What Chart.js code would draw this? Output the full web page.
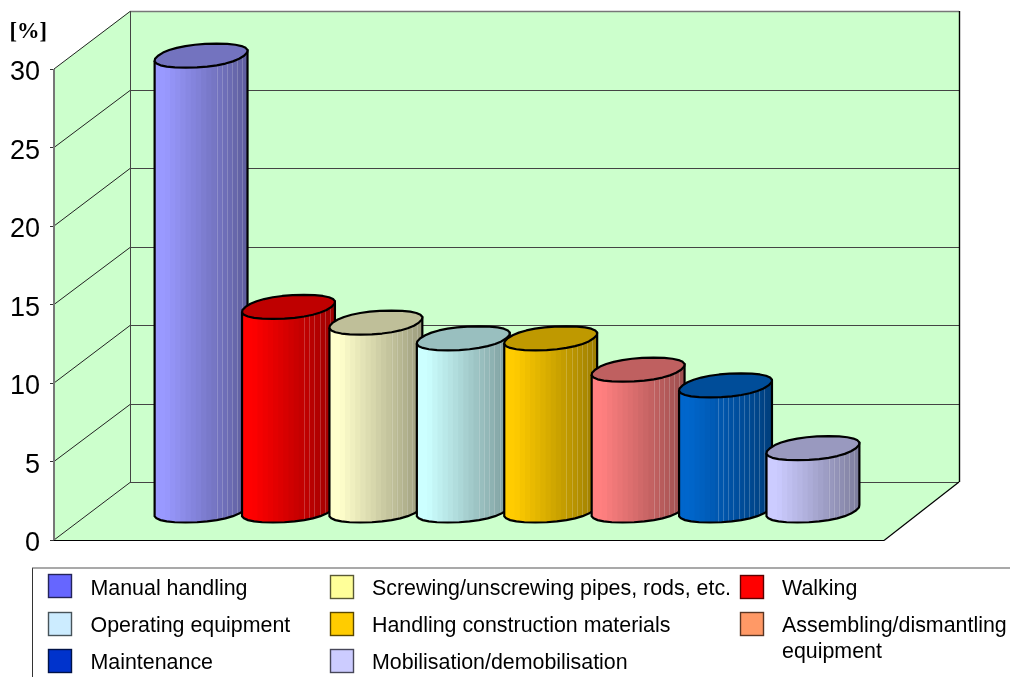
<!DOCTYPE html>
<html>
<head>
<meta charset="utf-8">
<title>Accident causes</title>
<script src="https://cdn.jsdelivr.net/npm/chart.js@4/dist/chart.umd.min.js"></script>
<style>
    html, body { margin: 0; padding: 0; background: #fff; overflow: hidden; }
    canvas { display: block; }
</style>
</head>
<body>
<canvas id="causesChart" width="1010" height="677"></canvas>
<script>
const categories = ['Causes'];
const seriesLabels = [
    'Manual handling',
    'Walking',
    'Screwing/unscrewing pipes, rods, etc.',
    'Operating equipment',
    'Handling construction materials',
    'Assembling/dismantling equipment',
    'Maintenance',
    'Mobilisation/demobilisation'
];
const seriesValues = [29, 13, 12, 11, 11, 9, 8, 4];
const barColors = ['#9999ff', '#ff0000', '#ffffcc', '#ccffff', '#ffcc00', '#ff8080', '#0066cc', '#ccccff'];
const legendColors = ['#6666ff', '#ff0000', '#ffff99', '#ccecff', '#ffcc00', '#ff9966', '#0033cc', '#ccccff'];
const yTicks = [0, 5, 10, 15, 20, 25, 30];

// depth of the box in pixels, the bars stand halfway in
const DEPTH_X = 76;
const DEPTH_Y = -58;
const WALL_COLOR = '#ccffcc';
const RADIUS_DEPTH = 0.207;
// below 1 the cylinder's cross section gets boxier than a true ellipse
const RING_POWER = 0.9;
const RING_STEPS = 28;

// legend slots, in series order: [swatch x, swatch y, text x, baseline]
const legendSlots = [
    [48, 574, 90.5, 595],
    [740, 575, 782, 595],
    [330, 575, 372, 595],
    [48, 612, 90.5, 632],
    [330, 612, 372, 632],
    [740, 612, 782, 632],
    [48, 649, 90.5, 669],
    [330, 649, 372, 669]
];

function shade(hex, k) {
    const n = parseInt(hex.slice(1), 16);
    const r = Math.round((n >> 16 & 255) * k);
    const g = Math.round((n >> 8 & 255) * k);
    const b = Math.round((n & 255) * k);
    return 'rgb(' + r + ',' + g + ',' + b + ')';
}

function polygon(ctx, pts, fill, stroke, lw) {
    ctx.beginPath();
    pts.forEach(function (p, i) {
        if (i === 0) ctx.moveTo(p[0], p[1]);
        else ctx.lineTo(p[0], p[1]);
    });
    ctx.closePath();
    if (fill) {
        ctx.fillStyle = fill;
        ctx.fill();
    }
    if (stroke) {
        ctx.strokeStyle = stroke;
        ctx.lineWidth = lw;
        ctx.stroke();
    }
}

function line(ctx, x1, y1, x2, y2, color, lw) {
    ctx.beginPath();
    ctx.moveTo(x1, y1);
    ctx.lineTo(x2, y2);
    ctx.strokeStyle = color;
    ctx.lineWidth = lw;
    ctx.stroke();
}

function drawWalls(chart) {
    const ctx = chart.ctx;
    const area = chart.chartArea;
    const yScale = chart.scales.y;
    const l = area.left, r = area.right, t = area.top, b = area.bottom;

    polygon(ctx, [[l + DEPTH_X, t + DEPTH_Y], [r + DEPTH_X - 1, t + DEPTH_Y], [r + DEPTH_X - 1, b + DEPTH_Y], [l + DEPTH_X, b + DEPTH_Y]], WALL_COLOR);
    polygon(ctx, [[l, t], [l + DEPTH_X, t + DEPTH_Y], [l + DEPTH_X, b + DEPTH_Y], [l, b]], WALL_COLOR);
    polygon(ctx, [[l, b], [l + DEPTH_X, b + DEPTH_Y], [r + DEPTH_X - 1, b + DEPTH_Y], [r, b]], WALL_COLOR);

    yTicks.forEach(function (v) {
        const y = yScale.getPixelForValue(v);
        const by = Math.round(y + DEPTH_Y) + 0.5;
        line(ctx, l, y, l + DEPTH_X, by, '#222', 1);
        line(ctx, l + DEPTH_X, by, r + DEPTH_X - 1, by, v === 30 ? '#777' : '#444', v === 30 ? 1.6 : 1.2);
    });

    line(ctx, l, t, l, b, '#777', 2);
    line(ctx, l + DEPTH_X + 0.5, t + DEPTH_Y, l + DEPTH_X + 0.5, b + DEPTH_Y, '#444', 1);
    line(ctx, r + DEPTH_X - 0.5, t + DEPTH_Y, r + DEPTH_X - 0.5, b + DEPTH_Y, '#000', 1.4);
    line(ctx, l, b + 0.5, r, b + 0.5, '#000', 1.2);
    line(ctx, r, b + 0.5, r + DEPTH_X - 1, b + DEPTH_Y, '#000', 1.2);
}

// closed outline of a bar's cross section lying in the floor plane
function ring(cx, cy, a) {
    const dx = DEPTH_X * RADIUS_DEPTH;
    const dy = DEPTH_Y * RADIUS_DEPTH;
    const raw = [];
    for (let i = 0; i < RING_STEPS; i++) {
        const t = 2 * Math.PI * i / RING_STEPS;
        const u = Math.sign(Math.cos(t)) * Math.pow(Math.abs(Math.cos(t)), RING_POWER);
        const v = Math.sign(Math.sin(t)) * Math.pow(Math.abs(Math.sin(t)), RING_POWER);
        raw.push([u * a + v * dx, v * dy]);
    }
    // the boxy shape overshoots, pull it back to the width of a true ellipse
    const widest = Math.max.apply(null, raw.map(function (p) { return p[0]; }));
    const fit = Math.hypot(a, dx) / widest;
    return raw.map(function (p) {
        return [cx + p[0] * fit, cy + p[1]];
    });
}

function extremeIndex(pts, better) {
    let best = 0;
    pts.forEach(function (p, i) {
        if (better(p[0], pts[best][0])) best = i;
    });
    return best;
}

function drawCylinder(ctx, el, color, index) {
    const a = el.width / 2;
    const cx = el.x + DEPTH_X / 2;
    const top = el.y + DEPTH_Y / 2;
    const base = el.base + DEPTH_Y / 2;

    const topRing = ring(cx, top, a);
    const baseRing = ring(cx, base, a);
    const iLeft = extremeIndex(topRing, function (x, b) { return x < b; });
    const iRight = extremeIndex(topRing, function (x, b) { return x > b; });

    // silhouette: down the left side, round the front of the base, up the right side
    const body = [topRing[iLeft]];
    for (let i = iLeft; i !== iRight; i = (i + 1) % RING_STEPS) {
        body.push(baseRing[i]);
    }
    body.push(baseRing[iRight], topRing[iRight]);

    const left = topRing[iLeft][0];
    const span = topRing[iRight][0] - left;

    ctx.save();
    polygon(ctx, body);
    ctx.clip();
    const bands = 18;
    for (let i = 0; i < bands; i++) {
        const f = i / bands;
        const k = f < 0.08 ? 1 : 1 - 0.4 * (f - 0.08) / 0.92;
        ctx.fillStyle = shade(color, k);
        ctx.fillRect(left + f * span, top - 30, span / bands + 1, base - top + 60);
    }
    // facet seams on the shaded side
    const seamStart = index === 6 ? 0.42 : 0.67;
    for (let f = seamStart; f < 0.95; f += 0.055) {
        const x = Math.round(left + f * span) + 0.5;
        line(ctx, x, top - 30, x, base + 30, 'rgba(255,255,255,0.2)', 1);
    }
    ctx.restore();

    ctx.lineJoin = 'round';
    polygon(ctx, body, null, '#000', 2.2);
    polygon(ctx, topRing, shade(color, 0.75), '#000', 2.2);
}

function drawLegend(chart) {
    const ctx = chart.ctx;
    line(ctx, 32.5, 568, 32.5, 677, '#333', 1);
    line(ctx, 32, 568, 1010, 568, '#555', 1.2);

    ctx.font = '21.4px "Liberation Sans", Arial, sans-serif';
    ctx.textAlign = 'left';
    ctx.textBaseline = 'alphabetic';
    chart.data.datasets.forEach(function (ds, i) {
        const slot = legendSlots[i];
        ctx.fillStyle = legendColors[i];
        ctx.fillRect(slot[0], slot[1], 23, 23);
        ctx.strokeStyle = shade(legendColors[i], 0.35);
        ctx.lineWidth = 1.4;
        ctx.strokeRect(slot[0] + 0.5, slot[1] + 0.5, 23, 23);

        ctx.fillStyle = '#000';
        if (ctx.measureText(ds.label).width > 1010 - slot[2]) {
            const cut = ds.label.lastIndexOf(' ');
            ctx.fillText(ds.label.slice(0, cut), slot[2], slot[3]);
            ctx.fillText(ds.label.slice(cut + 1), slot[2], slot[3] + 26);
        } else {
            ctx.fillText(ds.label, slot[2], slot[3]);
        }
    });
}

const cylinderPlugin = {
    id: 'cylinders',
    beforeDatasetsDraw: function (chart) {
        const ctx = chart.ctx;
        ctx.save();
        drawWalls(chart);
        chart.data.datasets.forEach(function (ds, i) {
            drawCylinder(ctx, chart.getDatasetMeta(i).data[0], ds.backgroundColor, i);
        });
        ctx.restore();
        return false;
    },
    afterDraw: function (chart) {
        const ctx = chart.ctx;
        ctx.save();
        drawLegend(chart);
        ctx.fillStyle = '#000';
        ctx.font = 'bold 22.5px "Liberation Serif", "Times New Roman", serif';
        ctx.textAlign = 'left';
        ctx.textBaseline = 'alphabetic';
        ctx.fillText('[%]', 9.5, 38);
        ctx.restore();
    }
};

new Chart(document.getElementById('causesChart').getContext('2d'), {
    type: 'bar',
    data: {
        labels: categories,
        datasets: seriesLabels.map(function (label, i) {
            return {
                label: label,
                data: [seriesValues[i]],
                backgroundColor: barColors[i],
                categoryPercentage: 0.8425,
                barPercentage: 1
            };
        })
    },
    options: {
        responsive: false,
        animation: false,
        layout: {
            padding: { left: 0, top: 69, right: 126, bottom: 137 }
        },
        plugins: {
            legend: { display: false },
            tooltip: { enabled: false }
        },
        scales: {
            x: { display: false },
            y: {
                min: 0,
                max: 30,
                afterFit: function (scale) {
                    scale.width = 54;
                },
                afterBuildTicks: function (scale) {
                    scale.ticks = yTicks.map(function (v) {
                        return { value: v };
                    });
                },
                border: { display: false },
                grid: {
                    drawOnChartArea: false,
                    color: '#333',
                    tickLength: 4
                },
                ticks: {
                    color: '#000',
                    padding: 10,
                    labelOffset: 4,
                    font: { family: '"Liberation Sans", Arial, sans-serif', size: 27 }
                }
            }
        }
    },
    plugins: [cylinderPlugin]
});
</script>
</body>
</html>
